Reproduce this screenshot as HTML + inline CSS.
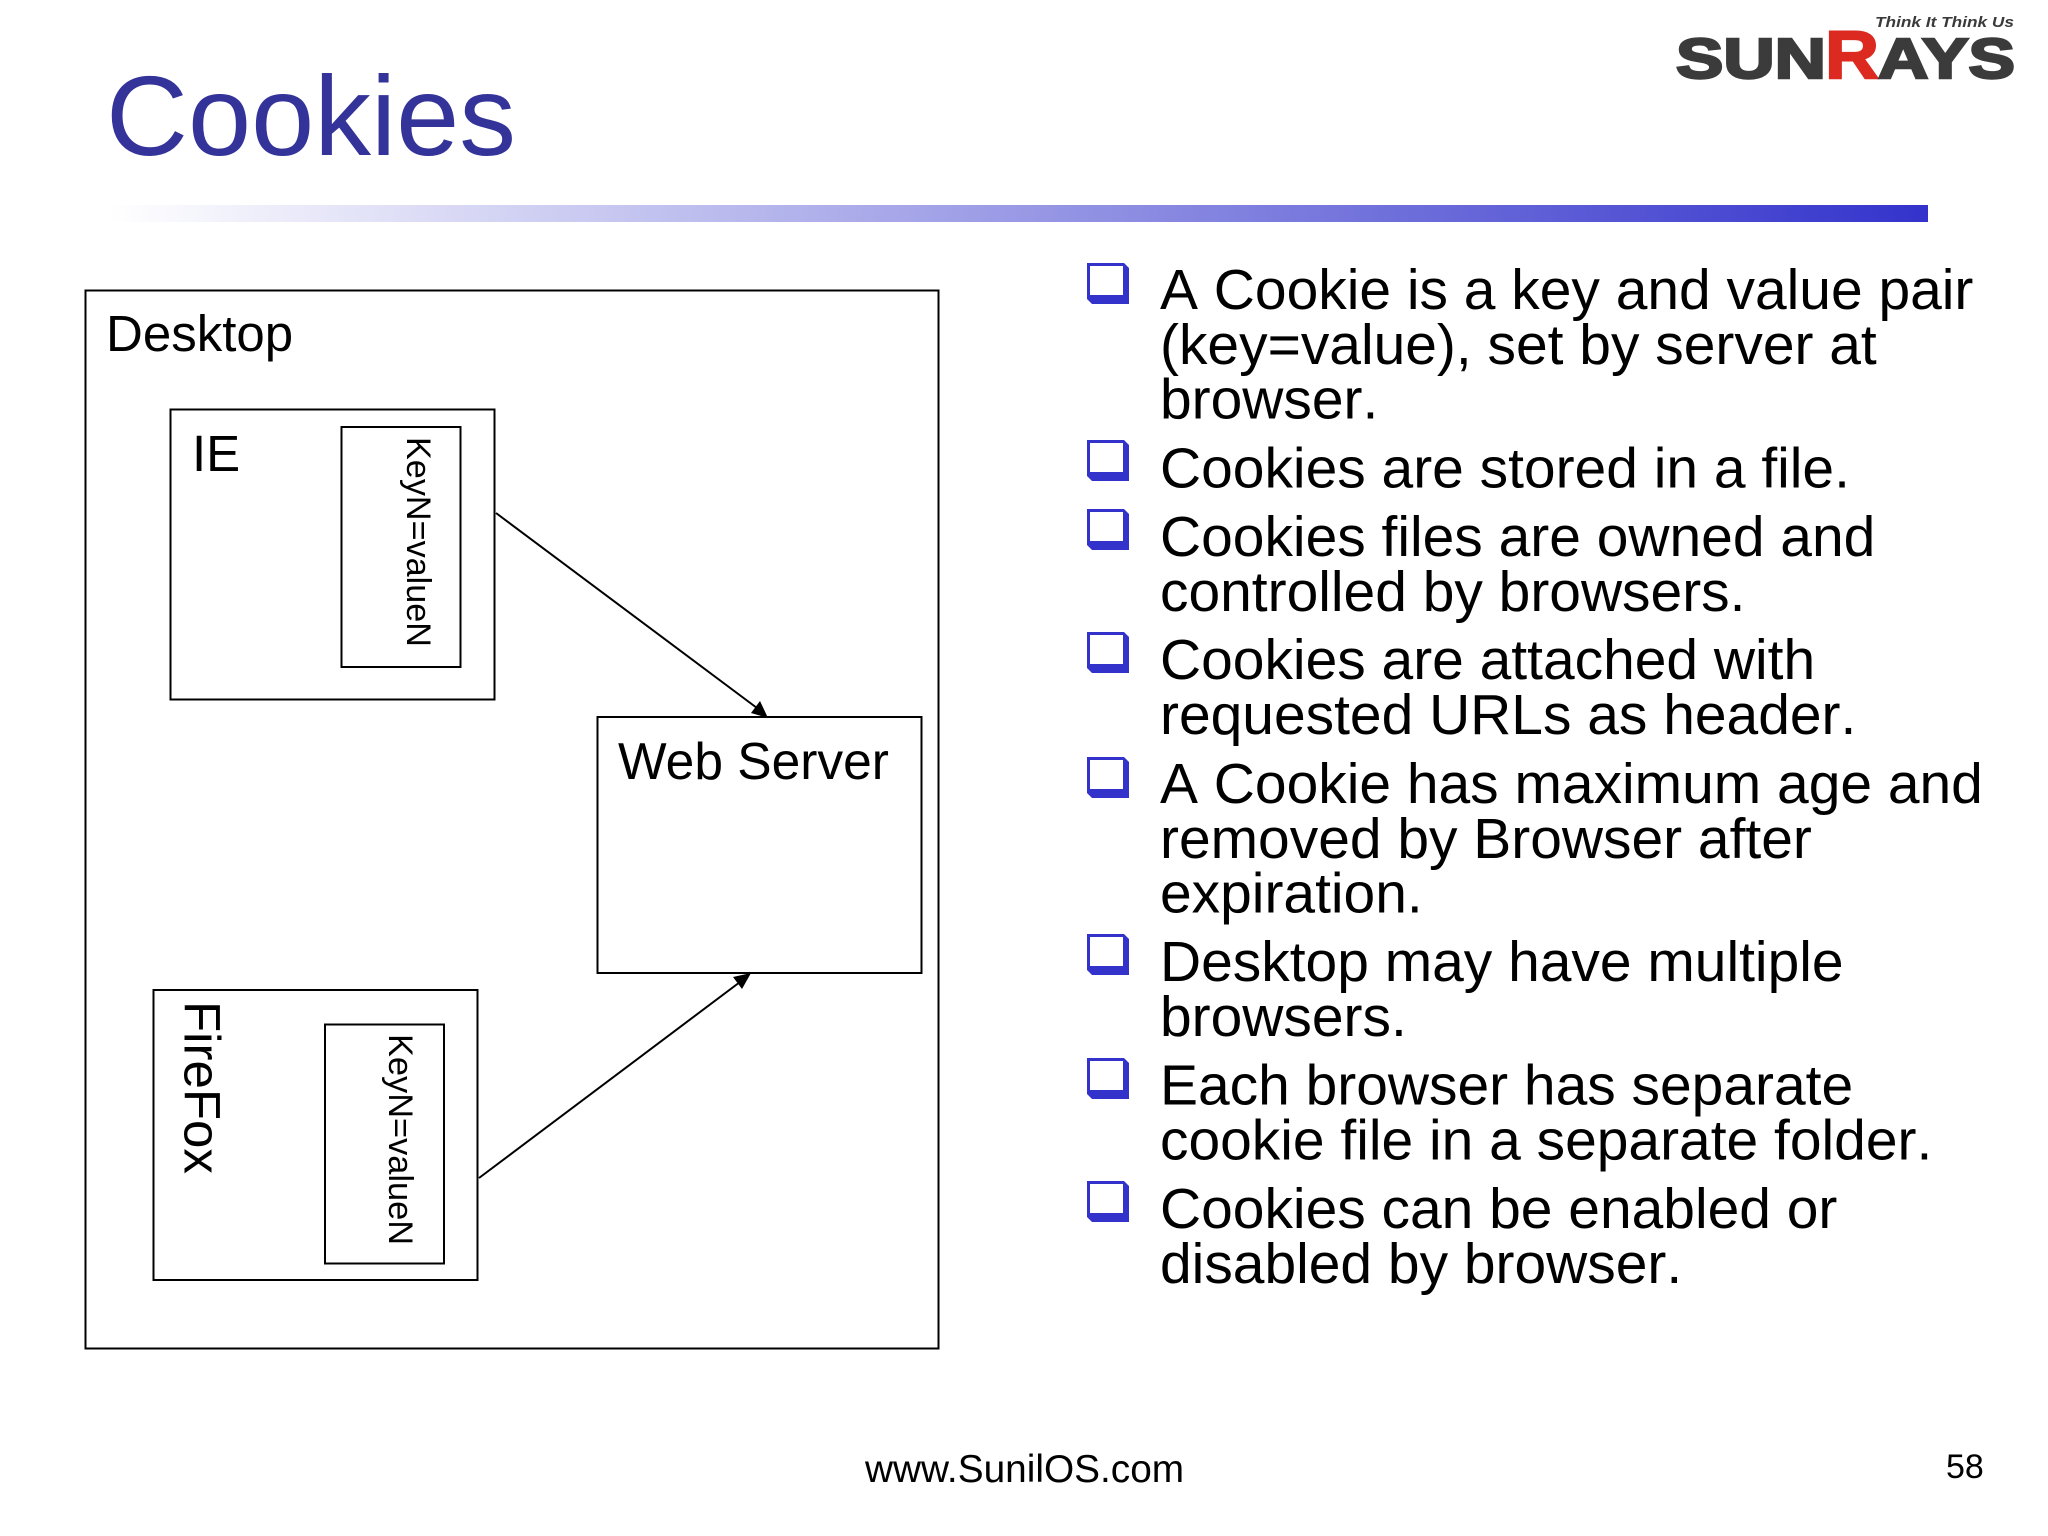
<!DOCTYPE html>
<html><head><meta charset="utf-8"><style>
html,body{margin:0;padding:0;background:#fff}
svg{display:block}
text{font-family:"Liberation Sans",Arial,sans-serif;fill:#000}
.b{font-size:56.950px;font-kerning:none}
</style></head><body>
<svg width="2048" height="1536" viewBox="0 0 2048 1536" xmlns="http://www.w3.org/2000/svg">
<defs>
<linearGradient id="g" x1="0" x2="1" y1="0" y2="0"><stop offset="0" stop-color="#fff"/><stop offset="1" stop-color="#3333cc"/></linearGradient>
<g id="bul"><path d="M0 0H37L42 5V41H5L0 36Z" fill="#3333cc"/><path d="M3 3H36V32H3Z" fill="#fff"/></g>
</defs>
<rect width="2048" height="1536" fill="#fff"/>
<text x="106" y="155" font-size="113.500" style="fill:#333399">Cookies</text>
<rect x="110" y="205" width="1818" height="17" fill="url(#g)"/>

<text x="1676" y="78" font-size="57" font-weight="bold" textLength="150" lengthAdjust="spacingAndGlyphs" style="fill:#3b3b3b;stroke:#3b3b3b;stroke-width:2.500">SUN</text>
<text x="1825" y="78" font-size="68" font-weight="bold" textLength="54" lengthAdjust="spacingAndGlyphs" style="fill:#dc2a20;stroke:#dc2a20;stroke-width:2">R</text>
<text x="1878" y="78" font-size="57" font-weight="bold" textLength="137" lengthAdjust="spacingAndGlyphs" style="fill:#3b3b3b;stroke:#3b3b3b;stroke-width:2.500">AYS</text>
<text x="1875" y="27" font-size="15" font-weight="bold" font-style="italic" textLength="139" lengthAdjust="spacingAndGlyphs" style="fill:#3b3b3b">Think It Think Us</text>

<g fill="none" stroke="#000" stroke-width="2">
<rect x="85.500" y="290.500" width="853" height="1058"/>
<rect x="170.500" y="409.500" width="324" height="290"/>
<rect x="341.500" y="427" width="119" height="240"/>
<rect x="597.500" y="717" width="324" height="256"/>
<rect x="153.500" y="990" width="324" height="290"/>
<rect x="325" y="1024.500" width="119" height="239"/>
<line x1="496" y1="513" x2="761" y2="711"/>
<line x1="479" y1="1178" x2="744" y2="979"/>
</g>
<path d="M768 718L751 713L760 701Z"/>
<path d="M751 973L742 989L733 977Z"/>

<text x="106" y="351" font-size="51">Desktop</text>
<text x="192" y="471" font-size="51">IE</text>
<text x="618" y="779" font-size="51.500">Web Server</text>
<text transform="translate(184.500 1001) rotate(90)" font-size="51">FireFox</text>
<text transform="translate(407 437) rotate(90)" font-size="34.500" textLength="210" lengthAdjust="spacingAndGlyphs">KeyN=valueN</text>
<text transform="translate(389 1034) rotate(90)" font-size="34.500" textLength="211" lengthAdjust="spacingAndGlyphs">KeyN=valueN</text>

<use href="#bul" x="1087" y="263"/>
<use href="#bul" x="1087" y="440"/>
<use href="#bul" x="1087" y="509"/>
<use href="#bul" x="1087" y="632"/>
<use href="#bul" x="1087" y="757"/>
<use href="#bul" x="1087" y="934"/>
<use href="#bul" x="1087" y="1058"/>
<use href="#bul" x="1087" y="1181"/>

<text class="b" x="1160" y="309">A Cookie is a key and value pair</text>
<text class="b" x="1160" y="364">(key=value), set by server at</text>
<text class="b" x="1160" y="418.500">browser.</text>
<text class="b" x="1160" y="487.500">Cookies are stored in a file.</text>
<text class="b" x="1160" y="556">Cookies files are owned and</text>
<text class="b" x="1160" y="611">controlled by browsers.</text>
<text class="b" x="1160" y="679">Cookies are attached with</text>
<text class="b" x="1160" y="734">requested URLs as header.</text>
<text class="b" x="1160" y="803">A Cookie has maximum age and</text>
<text class="b" x="1160" y="858">removed by Browser after</text>
<text class="b" x="1160" y="912.500">expiration.</text>
<text class="b" x="1160" y="981">Desktop may have multiple</text>
<text class="b" x="1160" y="1036">browsers.</text>
<text class="b" x="1160" y="1104.500">Each browser has separate</text>
<text class="b" x="1160" y="1159.500">cookie file in a separate folder.</text>
<text class="b" x="1160" y="1228">Cookies can be enabled or</text>
<text class="b" x="1160" y="1283">disabled by browser.</text>

<text x="865" y="1482" font-size="38.800">www.SunilOS.com</text>
<text x="1946" y="1478" font-size="34">58</text>
</svg>
</body></html>
